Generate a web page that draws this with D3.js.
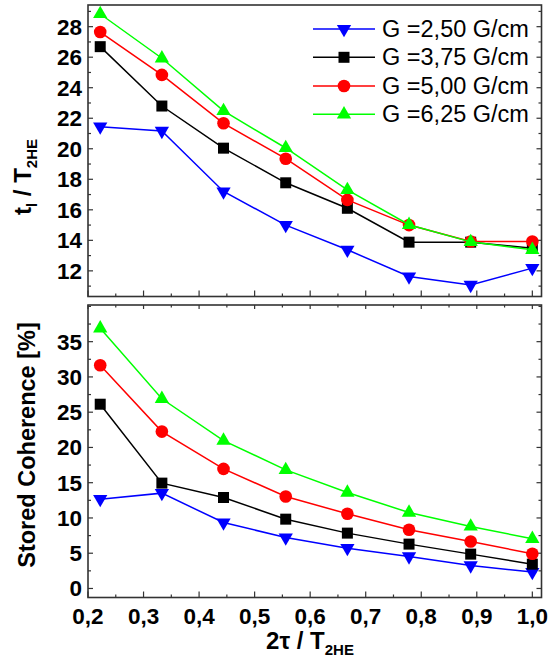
<!DOCTYPE html>
<html>
<head>
<meta charset="utf-8">
<script src="https://cdn.jsdelivr.net/npm/d3@7"></script>
<style>
  body { margin: 0; background: #fff; }
  text { font-family: "Liberation Sans", Arial, sans-serif; }
</style>
</head>
<body>
<svg id="chart" width="553" height="664"></svg>
<script>
// x values: 2tau / T2HE
var xs = [0.222, 0.333, 0.444, 0.556, 0.667, 0.778, 0.889, 1.0];

var labels = ['G =2,50 G/cm', 'G =3,75 G/cm', 'G =5,00 G/cm', 'G =6,25 G/cm'];
var colours = ['#0000ff', '#000000', '#ff0000', '#00ff00'];
var symbols = ['down', 'square', 'circle', 'up'];

// top panel: t_l / T2HE
var tl_250 = [21.45, 21.17, 17.2, 15.0, 13.38, 11.63, 11.08, 12.18];
var tl_375 = [26.69, 22.8, 20.04, 17.77, 16.1, 13.88, 13.88, 13.48];
var tl_500 = [27.65, 24.84, 21.67, 19.35, 16.65, 15.0, 13.92, 13.92];
var tl_625 = [28.83, 25.93, 22.48, 20.05, 17.3, 15.02, 13.9, 13.38];

// bottom panel: stored coherence [%]
var sc_250 = [12.67, 13.52, 9.35, 7.23, 5.72, 4.54, 3.26, 2.32];
var sc_375 = [26.13, 14.94, 12.9, 9.83, 7.85, 6.29, 4.87, 3.45];
var sc_500 = [31.66, 22.25, 16.96, 13.04, 10.59, 8.32, 6.66, 4.92];
var sc_625 = [36.9, 26.9, 20.97, 16.82, 13.6, 10.77, 8.79, 7.04];

var xTicks = [0.2, 0.3, 0.4, 0.5, 0.6, 0.7, 0.8, 0.9, 1.0];
var topTicks = [12, 14, 16, 18, 20, 22, 24, 26, 28];
var botTicks = [0, 5, 10, 15, 20, 25, 30, 35];

var svg = d3.select('#chart');
var left = 88, right = 541.5;
var fmt = function(d) { return d3.format('.1f')(d).replace('.', ','); };

var x = d3.scaleLinear().domain([0.2, 1.0165]).range([left, right]);

var panels = [
  { top: 5, bottom: 296.5, domain: [10.32, 29.42], ticks: topTicks, minor: 1, series: [tl_250, tl_375, tl_500, tl_625], xlabels: false, topTicks: false },
  { top: 305, bottom: 597.5, domain: [-1.28, 40.2], ticks: botTicks, minor: 2.5, series: [sc_250, sc_375, sc_500, sc_625], xlabels: true, topTicks: true }
];

function symbolPath(kind) {
  if (kind === 'circle') return d3.symbol().type(d3.symbolCircle).size(125)();
  if (kind === 'square') return d3.symbol().type(d3.symbolSquare).size(121)();
  return d3.symbol().type(d3.symbolTriangle).size(88)();
}

function drawMarker(g, kind, colour, px, py) {
  g.append('path')
    .attr('d', symbolPath(kind))
    .attr('transform', 'translate(' + px + ',' + py + ')' + (kind === 'down' ? ' rotate(180)' : ''))
    .attr('fill', colour);
}

panels.forEach(function(p) {
  var y = d3.scaleLinear().domain(p.domain).range([p.bottom, p.top]);
  var g = svg.append('g');

  // minor ticks
  var xMinor = d3.range(0.25, 1.0165, 0.1);
  var yMinor = d3.range(Math.ceil(p.domain[0] / p.minor) * p.minor, p.domain[1], p.minor);

  var tickG = g.append('g').attr('stroke', '#333').attr('stroke-width', 1.2);
  xTicks.forEach(function(t) {
    tickG.append('line').attr('x1', x(t)).attr('x2', x(t)).attr('y1', p.bottom).attr('y2', p.bottom - 6);
    if (p.topTicks) tickG.append('line').attr('x1', x(t)).attr('x2', x(t)).attr('y1', p.top).attr('y2', p.top + 4);
  });
  xMinor.forEach(function(t) {
    tickG.append('line').attr('x1', x(t)).attr('x2', x(t)).attr('y1', p.bottom).attr('y2', p.bottom - 3);
    if (p.topTicks) tickG.append('line').attr('x1', x(t)).attr('x2', x(t)).attr('y1', p.top).attr('y2', p.top + 2.5);
  });
  yMinor.forEach(function(t) {
    var major = p.ticks.indexOf(Math.round(t * 10) / 10) >= 0;
    var len = major ? 5 : 3;
    tickG.append('line').attr('x1', left).attr('x2', left + len).attr('y1', y(t)).attr('y2', y(t));
    tickG.append('line').attr('x1', right).attr('x2', right - len).attr('y1', y(t)).attr('y2', y(t));
  });

  // frame
  g.append('rect')
    .attr('x', left).attr('y', p.top)
    .attr('width', right - left).attr('height', p.bottom - p.top)
    .attr('fill', 'none').attr('stroke', '#333').attr('stroke-width', 1.6);

  // y tick labels
  g.selectAll('.ylab').data(p.ticks).enter().append('text')
    .attr('x', left - 6).attr('y', function(d) { return y(d) + 8; })
    .attr('text-anchor', 'end')
    .style('font-size', '22.5px').style('font-weight', 'bold')
    .text(function(d) { return d; });

  if (p.xlabels) {
    g.selectAll('.xlab').data(xTicks).enter().append('text')
      .attr('x', function(d) { return x(d); }).attr('y', p.bottom + 26)
      .attr('text-anchor', 'middle')
      .style('font-size', '22.5px').style('font-weight', 'bold')
      .text(fmt);
  }

  // series
  p.series.forEach(function(vals, i) {
    var line = d3.line().x(function(d, j) { return x(xs[j]); }).y(function(d) { return y(d); });
    g.append('path').datum(vals)
      .attr('d', line).attr('fill', 'none')
      .attr('stroke', colours[i]).attr('stroke-width', 1.5);
    vals.forEach(function(v, j) {
      drawMarker(g, symbols[i], colours[i], x(xs[j]), y(v));
    });
  });
});

// legend
var legY = [29, 57.3, 86, 114.3];
labels.forEach(function(lab, i) {
  var lg = svg.append('g');
  lg.append('line').attr('x1', 313).attr('x2', 375).attr('y1', legY[i]).attr('y2', legY[i])
    .attr('stroke', colours[i]).attr('stroke-width', 1.5);
  drawMarker(lg, symbols[i], colours[i], 344, legY[i]);
  lg.append('text').attr('x', 382).attr('y', legY[i] + 8)
    .style('font-size', '23.5px')
    .text(lab);
});

// axis titles
var t1 = svg.append('text')
  .attr('transform', 'translate(31,177) rotate(-90)')
  .attr('text-anchor', 'middle')
  .style('font-size', '24px').style('font-weight', 'bold');
t1.append('tspan').text('t');
t1.append('tspan').attr('dy', 6).style('font-size', '15px').text('l');
t1.append('tspan').attr('dy', -6).text(' / T');
t1.append('tspan').attr('dy', 6).style('font-size', '15px').text('2HE');

svg.append('text')
  .attr('transform', 'translate(35,445) rotate(-90)')
  .attr('text-anchor', 'middle')
  .style('font-size', '23.5px').style('font-weight', 'bold')
  .text('Stored Coherence [%]');

var t3 = svg.append('text')
  .attr('x', 310).attr('y', 649)
  .attr('text-anchor', 'middle')
  .style('font-size', '24px').style('font-weight', 'bold');
t3.append('tspan').text('2\u03c4 / T');
t3.append('tspan').attr('dy', 6).style('font-size', '15px').text('2HE');
</script>
</body>
</html>
